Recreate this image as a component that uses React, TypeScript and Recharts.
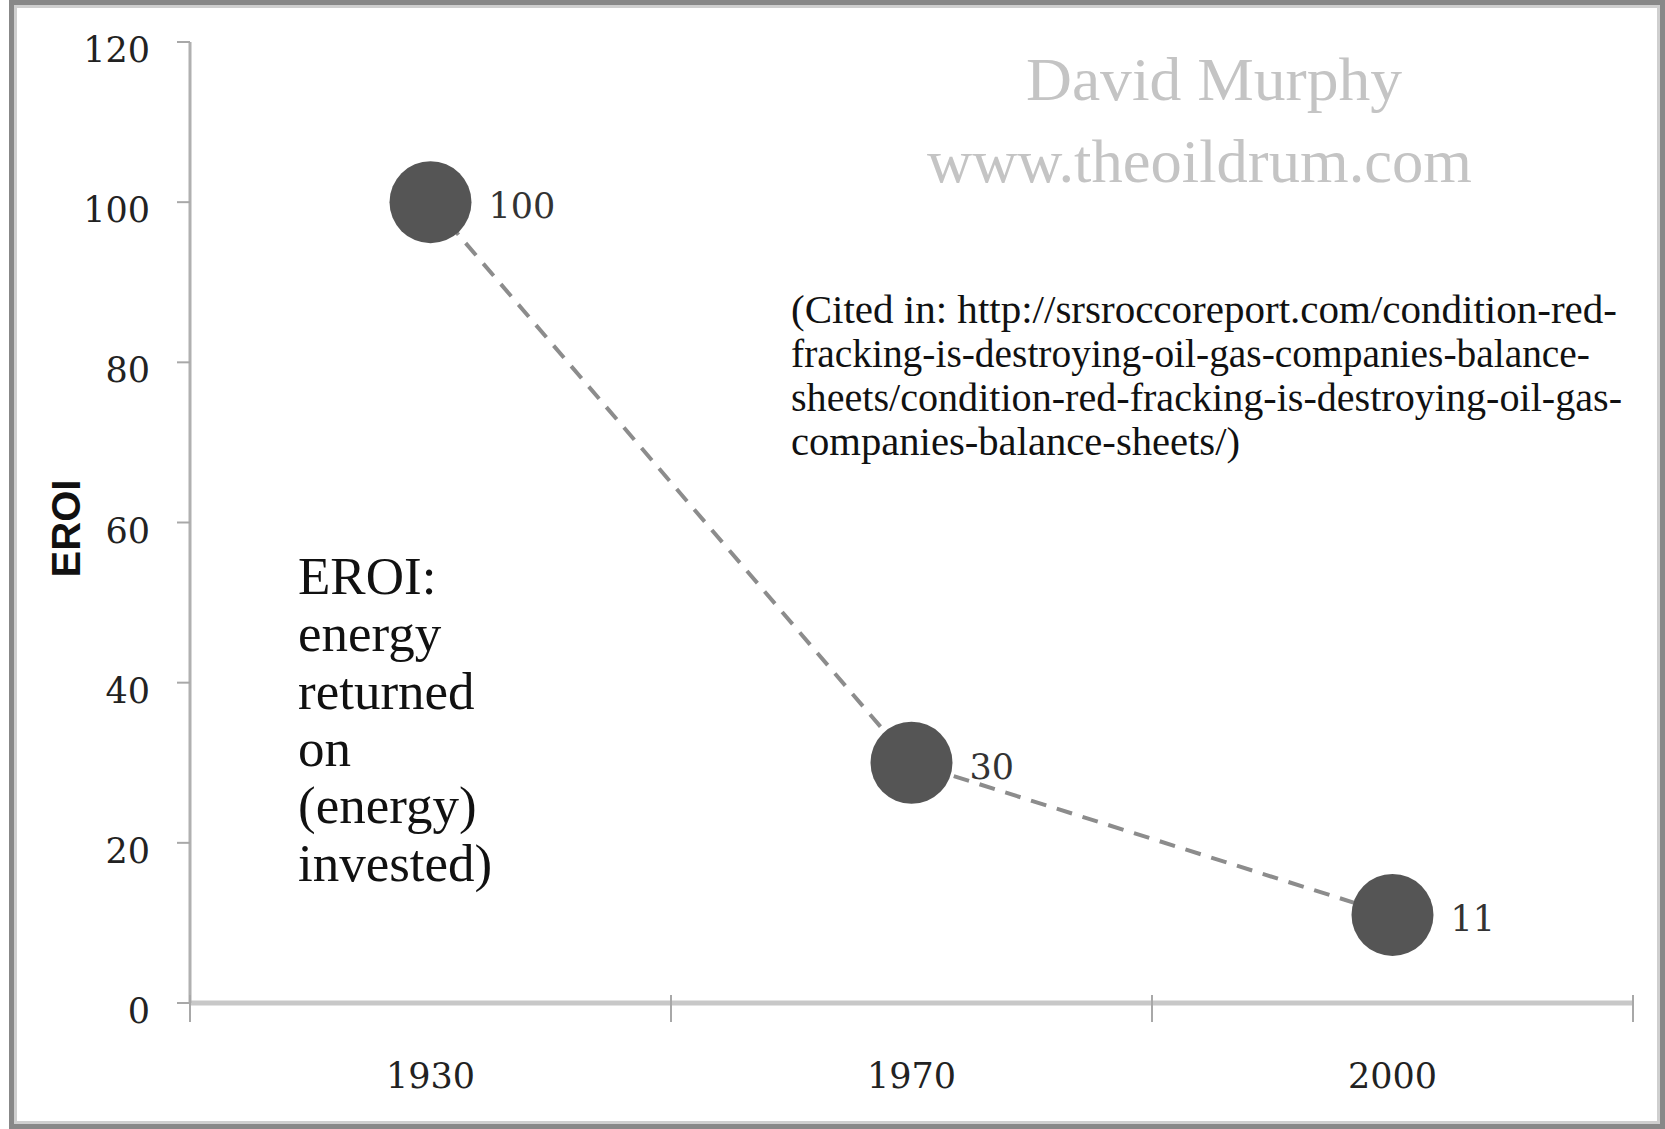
import { LabelList, Line, LineChart, XAxis, YAxis } from "recharts";

const years = ["1930", "1970", "2000"];
const eroiValues = [100, 30, 11];
const yTicks = [0, 20, 40, 60, 80, 100, 120];

const watermarkLines = ["David Murphy", "www.theoildrum.com"];
const citedLines = [
  "(Cited in: http://srsroccoreport.com/condition-red-",
  "fracking-is-destroying-oil-gas-companies-balance-",
  "sheets/condition-red-fracking-is-destroying-oil-gas-",
  "companies-balance-sheets/)",
];
const noteLines = ["EROI:", "energy", "returned", "on", "(energy)", "invested)"];

// measured line widths of the citation block in the original (px)
const citedWidths = [826, 799, 831, 449];

const data = years.map((year, i) => ({ year, eroi: eroiValues[i] }));

const W = 1665;
const H = 1129;
const tickFont = "'DejaVu Serif', serif";
const textFont = "'Liberation Serif', 'Times New Roman', serif";

function YTick(props: any) {
  const { x, y, payload } = props;
  return (
    <text x={x} y={y + 8} textAnchor="end" dominantBaseline="central" fontFamily={tickFont} fontSize={35} fill="#222">
      {payload.value}
    </text>
  );
}

function XTick(props: any) {
  const { x, y, payload, index } = props;
  const half = payload.offset ?? 240;
  return (
    <g>
      <line x1={x - half} x2={x - half} y1={y - 8} y2={y + 19} stroke="#a8a8a8" strokeWidth={2} />
      {index === years.length - 1 && (
        <line x1={x + half} x2={x + half} y1={y - 8} y2={y + 19} stroke="#a8a8a8" strokeWidth={2} />
      )}
      <text x={x} y={y + 73} textAnchor="middle" dominantBaseline="central" fontFamily={tickFont} fontSize={35} fill="#222">
        {payload.value}
      </text>
    </g>
  );
}

function ValueLabel(props: any) {
  const { x, y, value } = props;
  return (
    <text x={x + 58} y={y + 4} dominantBaseline="central" fontFamily={tickFont} fontSize={35} fill="#333">
      {value}
    </text>
  );
}

function AxisTitle(props: any) {
  const { viewBox } = props;
  const cx = viewBox.x + 66;
  const cy = viewBox.y + viewBox.height / 2 + 6;
  return (
    <text
      x={cx}
      y={cy}
      transform={`rotate(-90 ${cx} ${cy})`}
      textAnchor="middle"
      dominantBaseline="central"
      fontFamily="'Liberation Sans', Arial, sans-serif"
      fontWeight="bold"
      fontSize={40}
      fill="#111"
    >
      EROI
    </text>
  );
}

export default function App() {
  return (
    <div style={{ position: "absolute", left: 0, top: 0, width: W, height: H, background: "#fff" }}>
      <div style={{ position: "absolute", left: 0, top: 0 }}>
        <LineChart width={W} height={H} data={data} margin={{ top: 42, right: 32, bottom: 0, left: 0 }}>
          <XAxis
            dataKey="year"
            scale="band"
            height={126}
            tickSize={0}
            tickMargin={0}
            tickLine={false}
            axisLine={{ stroke: "#c8c8c8", strokeWidth: 5 }}
            tick={(p: any) => <XTick {...p} />}
          />
          <YAxis
            domain={[0, 120]}
            ticks={yTicks}
            width={190}
            tickSize={13}
            tickMargin={27}
            tickLine={{ stroke: "#a8a8a8", strokeWidth: 2 }}
            axisLine={{ stroke: "#b0b0b0", strokeWidth: 3 }}
            tick={(p: any) => <YTick {...p} />}
            label={{ content: (p: any) => <AxisTitle {...p} /> }}
          />
          <Line
            type="linear"
            dataKey="eroi"
            stroke="#8c8c8c"
            strokeWidth={4}
            strokeDasharray="16 11"
            dot={{ r: 41, fill: "#555555", stroke: "none" }}
            activeDot={false}
            isAnimationActive={false}
          >
            <LabelList dataKey="eroi" content={(p: any) => <ValueLabel {...p} />} />
          </Line>
        </LineChart>
      </div>
      <svg width={W} height={H} style={{ position: "absolute", left: 0, top: 0, pointerEvents: "none" }}>
        <text x={1026} y={100} textLength={376} lengthAdjust="spacingAndGlyphs" fontFamily={textFont} fontSize={62} fill="#c4c4c4">
          {watermarkLines[0]}
        </text>
        <text x={927} y={182} textLength={545} lengthAdjust="spacingAndGlyphs" fontFamily={textFont} fontSize={62} fill="#c4c4c4">
          {watermarkLines[1]}
        </text>
        {citedLines.map((line, i) => (
          <text
            key={i}
            x={791}
            y={323 + i * 44}
            textLength={citedWidths[i]}
            lengthAdjust="spacingAndGlyphs"
            fontFamily={textFont}
            fontSize={41}
            fill="#111"
          >
            {line}
          </text>
        ))}
        {noteLines.map((line, i) => (
          <text key={i} x={298} y={594 + i * 57.3} fontFamily={textFont} fontSize={53} fill="#111">
            {line}
          </text>
        ))}
      </svg>
      <div
        style={{
          position: "absolute",
          left: 9,
          top: 0,
          width: W - 9,
          height: H,
          boxSizing: "border-box",
          border: "5px solid #888",
          boxShadow: "inset 0 0 0 3px #cfcfcf",
          pointerEvents: "none",
        }}
      />
    </div>
  );
}
